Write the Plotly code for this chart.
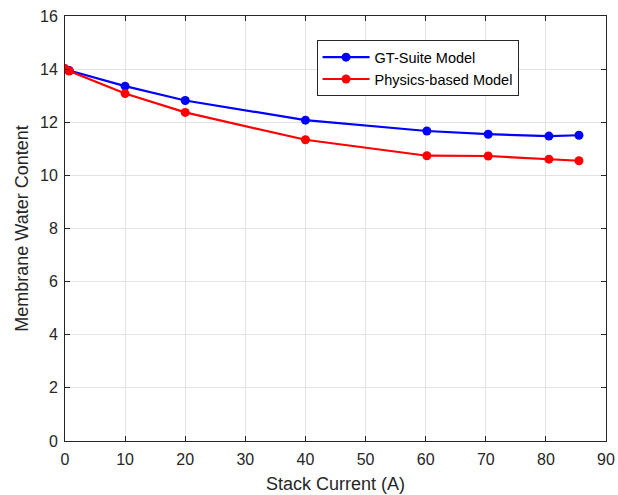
import plotly.graph_objects as go

# Stack current (A) and membrane water content for the two models
current = [0, 0.7, 10, 20, 40, 60.2, 70.4, 80.5, 85.5]
gt_suite = [14.0, 13.95, 13.36, 12.82, 12.08, 11.67, 11.55, 11.48, 11.51]
physics = [14.02, 13.93, 13.08, 12.37, 11.34, 10.74, 10.73, 10.61, 10.55]

x_ticks = [0, 10, 20, 30, 40, 50, 60, 70, 80, 90]
y_ticks = [0, 2, 4, 6, 8, 10, 12, 14, 16]

FONT = "Liberation Sans, Arial, Helvetica, sans-serif"
AX = "#262626"

fig = go.Figure()
fig.add_trace(go.Scatter(
    x=current, y=gt_suite, mode="lines+markers", name="GT-Suite Model",
    line=dict(color="#0000ff", width=2.2),
    marker=dict(color="#0000ff", size=9),
))
fig.add_trace(go.Scatter(
    x=current, y=physics, mode="lines+markers", name="Physics-based Model",
    line=dict(color="#ff0000", width=2.2),
    marker=dict(color="#ff0000", size=9),
))

axis_common = dict(
    showline=True, linecolor=AX, linewidth=1, mirror="ticks",
    ticks="inside", ticklen=5, tickcolor=AX, tickwidth=1,
    showgrid=True, gridcolor="#e3e3e3", gridwidth=1,
    zeroline=False, automargin=False,
    tickfont=dict(family=FONT, size=16, color=AX),
)

fig.update_xaxes(
    range=[0, 90], tickvals=x_ticks, ticktext=[str(v) for v in x_ticks],
    ticklabelstandoff=4,
    title=dict(text="Stack Current (A)", font=dict(family=FONT, size=18, color=AX), standoff=10),
    **axis_common,
)
fig.update_yaxes(
    range=[0, 16], tickvals=y_ticks, ticktext=[str(v) for v in y_ticks],
    ticklabelstandoff=3,
    title=dict(text="Membrane Water Content", font=dict(family=FONT, size=18, color=AX), standoff=6),
    **axis_common,
)

fig.update_layout(
    width=618, height=495,
    margin=dict(l=65, r=12, t=16, b=54),
    paper_bgcolor="white", plot_bgcolor="white",
    showlegend=True,
    legend=dict(
        x=0.465, y=0.943, xanchor="left", yanchor="top",
        bordercolor=AX, borderwidth=1, bgcolor="white",
        font=dict(family=FONT, size=14.5, color="#000000"),
        itemwidth=47, tracegroupgap=0,
    ),
)

fig.write_html("out.html")
